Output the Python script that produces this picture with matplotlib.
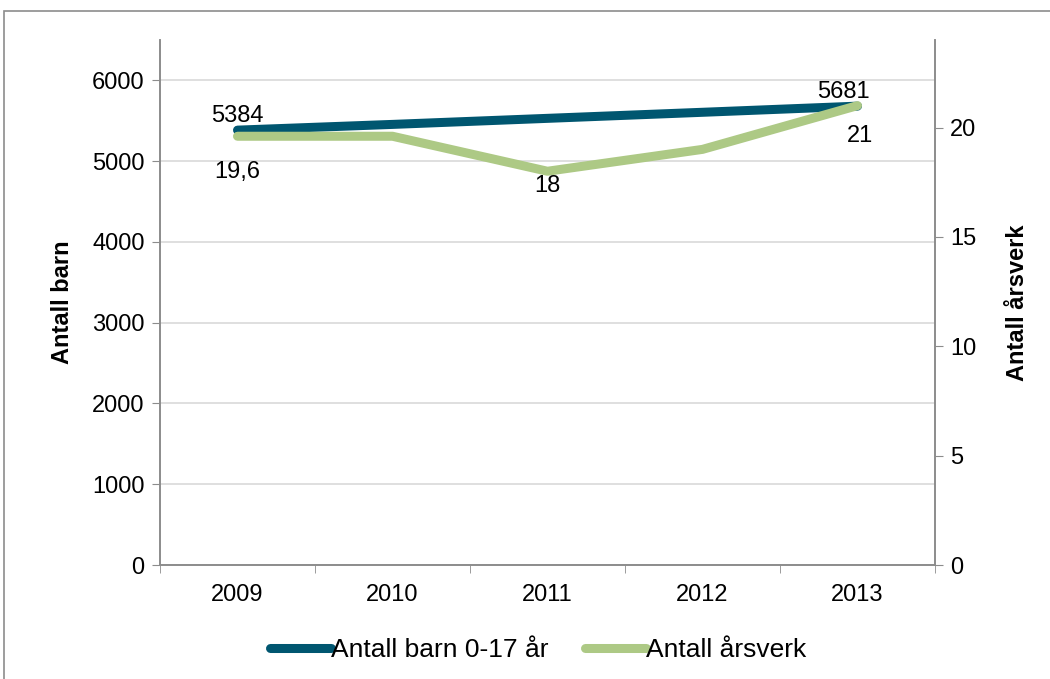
import matplotlib.pyplot as plt
from matplotlib.patches import Rectangle

years = ['2009', '2010', '2011', '2012', '2013']
barn = [5384, 5455, 5530, 5605, 5681]
arsverk = [19.6, 19.6, 18, 19, 21]

barn_labels = {0: '5384', 4: '5681'}
arsverk_labels = {0: '19,6', 2: '18', 4: '21'}

plt.rcParams['font.family'] = ['Liberation Sans', 'DejaVu Sans']

blue = '#005670'
green = '#adc985'
grey = '#8c8c8c'
fs = 17

fig = plt.figure(figsize=(10.5, 6.79), dpi=100)
fig.patches.append(Rectangle((4 / 1050, -0.1), 1.2, (679 - 11) / 679 + 0.1,
                             transform=fig.transFigure, fill=False,
                             edgecolor=grey, linewidth=1.2))

ax = fig.add_axes([160 / 1050, 114 / 679, 775 / 1050, 525 / 679])
ax2 = ax.twinx()

x = list(range(len(years)))
l1, = ax.plot(x, barn, color=blue, linewidth=6.5, solid_capstyle='round', zorder=3)
l2, = ax2.plot(x, arsverk, color=green, linewidth=6.5, solid_capstyle='round', zorder=3)

ax.set_xlim(-0.5, len(years) - 0.5)
ax.set_ylim(0, 6500)
ax2.set_ylim(0, 24)
ax.set_yticks(range(0, 7000, 1000))
ax2.set_yticks(range(0, 25, 5))
ax.set_xticks(x)
ax.set_xticklabels(years)
ax.set_xticks([i - 0.5 for i in range(len(years) + 1)], minor=True)
ax.tick_params(axis='x', which='major', length=0, pad=14, labelsize=fs)
ax.tick_params(axis='x', which='minor', length=6, color=grey)
ax.tick_params(axis='y', length=6, color=grey, labelsize=fs, pad=5)
ax2.tick_params(axis='y', length=6, color=grey, labelsize=fs, pad=5)

ax.grid(axis='y', color='#d9d9d9', linewidth=1.2)
ax.set_axisbelow(True)
for a in (ax, ax2):
    a.spines['top'].set_visible(False)
    for s in ('left', 'right', 'bottom'):
        a.spines[s].set_color(grey)
        a.spines[s].set_linewidth(1.2)

ax.set_ylabel('Antall barn', fontsize=fs, fontweight='bold', labelpad=13)
ax2.set_ylabel('Antall årsverk', fontsize=fs, fontweight='bold', labelpad=21)

barn_off = {0: (0, 2), 4: (-10, 2)}
for i, t in barn_labels.items():
    ax.annotate(t, (x[i], barn[i]), xytext=barn_off[i], textcoords='offset points',
                ha='center', va='bottom', fontsize=fs)
arsverk_off = {0: (0, -18), 2: (0, -3), 4: (2, -14)}
for i, t in arsverk_labels.items():
    ax2.annotate(t, (x[i], arsverk[i]), xytext=arsverk_off[i], textcoords='offset points',
                 ha='center', va='top', fontsize=fs)

fig.legend([l1, l2], ['Antall barn 0-17 år', 'Antall årsverk'], loc='center',
           bbox_to_anchor=(538 / 1050, 1 - 650 / 679), ncol=2, frameon=False,
           fontsize=19, handlelength=2.3, handletextpad=0.0, columnspacing=1.4)

fig.savefig('out.png', dpi=100)
